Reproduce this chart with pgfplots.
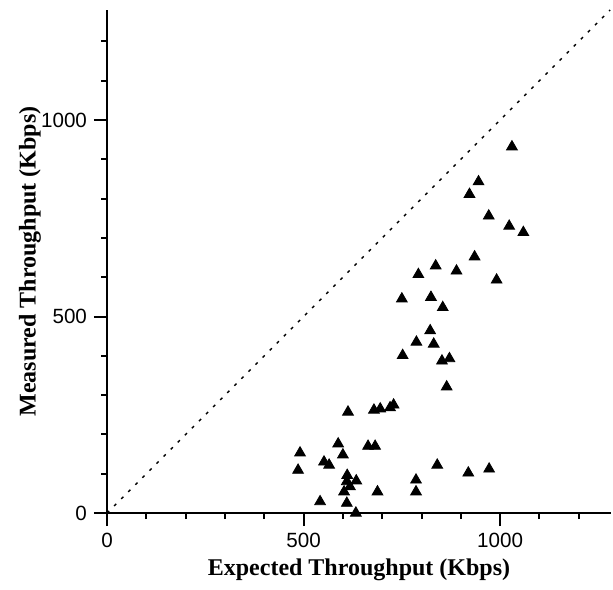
\documentclass[border=0pt]{standalone}
\usepackage{fontspec}
\setmainfont{Liberation Serif}
\newfontfamily\arial{Liberation Sans}
\usepackage{pgfplots}
\pgfplotsset{compat=1.18}
\pgfplotstableread{
x y
1030 932
945 843
922 811
971 756
1023 730
1059 714
935 652
836 629
792 607
889 616
991 593
750 545
824 549
854 523
822 464
787 435
831 430
752 401
852 387
871 393
864 321
729 275
720 268
695 265
679 262
613 257
664 170
682 170
588 176
600 148
491 153
486 109
552 130
565 122
611 96
634 82
610 80
618 67
603 54
610 25
542 29
633 0
688 54
786 54
786 84
840 122
919 102
972 112
}\pts
\begin{document}
\begin{tikzpicture}
\begin{axis}[
 at={(0,0)}, anchor=south west,
 scale only axis, width=252pt, height=251.5pt,
 xmin=0, xmax=1282, ymin=0, ymax=1280,
 axis lines*=left, axis line style={line width=1pt, -},
 xtick={0,500,1000}, ytick={0,500,1000},
 minor xtick={100,200,...,1200}, minor ytick={100,200,...,1200},
 tick align=outside, major tick length=6.5pt, minor tick length=3pt,
 every tick/.style={black, line width=1pt},
 tick label style={font=\arial\fontsize{10.3}{12}\selectfont},
 /pgf/number format/assume math mode=true,
 /pgf/number format/1000 sep={},
 xlabel={Expected Throughput (Kbps)},
 ylabel={Measured Throughput (Kbps)},
 label style={font=\fontsize{12}{14}\selectfont\bfseries},
 xlabel style={at={(axis description cs:0.5,-0.1133)}, anchor=center},
 ylabel style={at={(axis description cs:-0.1528,0.5)}, anchor=center, rotate=0},
 clip=false,
]
\addplot[black, line width=0.7pt, dash pattern=on 1.5pt off 3.5pt] coordinates {(0,0) (1280,1280)};
\addplot[only marks, mark=triangle*, mark size=3.1pt, black] table[x=x,y=y] {\pts};
\end{axis}
\pgfresetboundingbox
\path[use as bounding box] (-53.5pt,-38pt) rectangle (253pt,256.5pt);
\end{tikzpicture}
\end{document}
